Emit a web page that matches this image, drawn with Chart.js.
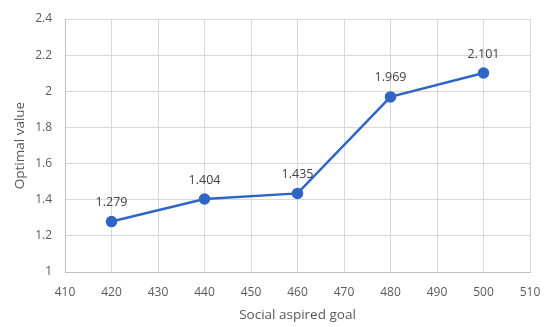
<!DOCTYPE html>
<html>
<head>
<meta charset="utf-8">
<script src="https://cdn.jsdelivr.net/npm/chart.js@4/dist/chart.umd.min.js"></script>
<style>
  html, body { margin: 0; padding: 0; background: #ffffff; }
  #wrap { width: 545px; height: 327px; position: relative; }
</style>
</head>
<body>
<div id="wrap"><canvas id="c"></canvas></div>
<script>
// Social aspired goal vs. optimal value
const goals = [420, 440, 460, 480, 500];
const optimalValues = [1.279, 1.404, 1.435, 1.969, 2.101];
const xTicks = [410, 420, 430, 440, 450, 460, 470, 480, 490, 500, 510];
const yTicks = [1, 1.2, 1.4, 1.6, 1.8, 2, 2.2, 2.4];

const FONT = "'Open Sans', 'Noto Sans', sans-serif";
const LINE_BLUE = '#2f66c6';

// Writes each point's value above its marker
const valueLabels = {
  id: 'valueLabels',
  afterDatasetsDraw(chart) {
    const ctx = chart.ctx;
    const meta = chart.getDatasetMeta(0);
    ctx.save();
    ctx.font = '12.5px ' + FONT;
    ctx.fillStyle = '#404040';
    ctx.textAlign = 'center';
    ctx.textBaseline = 'middle';
    meta.data.forEach((pt, i) => {
      ctx.fillText(String(optimalValues[i]), pt.x, pt.y - 19);
    });
    ctx.restore();
  }
};

new Chart(document.getElementById('c'), {
  type: 'scatter',
  data: {
    datasets: [{
      data: goals.map((g, i) => ({ x: g, y: optimalValues[i] })),
      showLine: true,
      borderColor: LINE_BLUE,
      backgroundColor: LINE_BLUE,
      borderWidth: 2.5,
      pointRadius: 4.5,
      pointHoverRadius: 4.5,
      tension: 0
    }]
  },
  options: {
    responsive: true,
    maintainAspectRatio: false,
    animation: false,
    layout: { padding: { top: 19, right: 15, bottom: 0, left: 0 } },
    plugins: {
      legend: { display: false },
      tooltip: { enabled: false }
    },
    scales: {
      x: {
        type: 'linear',
        min: 410,
        max: 510,
        afterBuildTicks(axis) { axis.ticks = xTicks.map(v => ({ value: v })); },
        afterFit(axis) {
          axis.height = 55;
          axis.paddingLeft = 0;
          axis.paddingRight = 0;
        },
        grid: { color: '#d9d9d9', lineWidth: 1, drawTicks: false },
        border: { color: '#bfbfbf', width: 1 },
        ticks: { color: '#595959', padding: 13, font: { family: FONT, size: 12 }, maxRotation: 0 },
        title: {
          display: true,
          text: 'Social aspired goal',
          color: '#595959',
          font: { family: FONT, size: 13.5 },
          padding: { top: 2, bottom: 4 }
        }
      },
      y: {
        min: 1,
        max: 2.4,
        afterBuildTicks(axis) { axis.ticks = yTicks.map(v => ({ value: v })); },
        afterFit(axis) {
          axis.width = 65;
          axis.paddingTop = 0;
          axis.paddingBottom = 0;
        },
        grid: { color: '#d9d9d9', lineWidth: 1, drawTicks: false },
        border: { color: '#bfbfbf', width: 1 },
        ticks: {
          color: '#595959',
          padding: 13,
          font: { family: FONT, size: 12 },
          callback: v => String(Math.round(v * 10) / 10)
        },
        title: {
          display: true,
          text: 'Optimal value',
          color: '#595959',
          font: { family: FONT, size: 13.5 },
          padding: { top: 12, bottom: 4 }
        }
      }
    }
  },
  plugins: [valueLabels]
});
</script>
</body>
</html>
